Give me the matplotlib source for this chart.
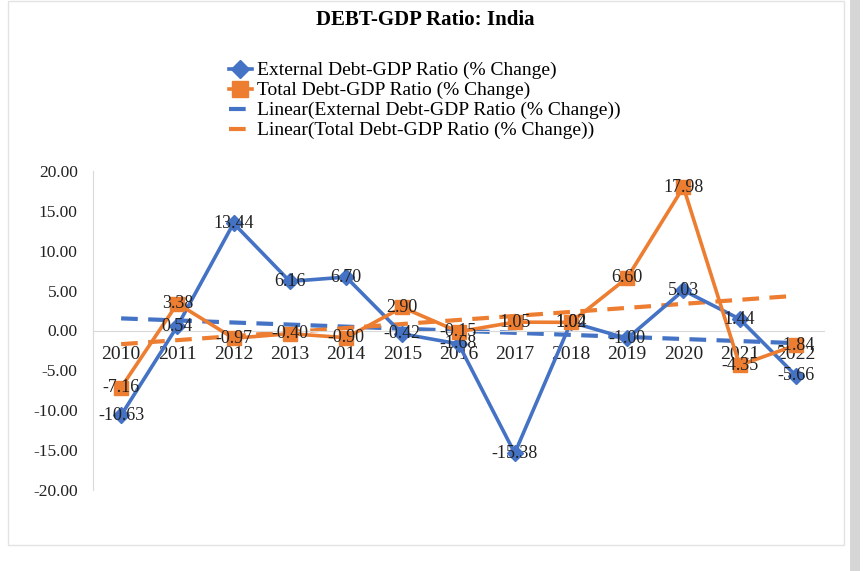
import numpy as np
import matplotlib.pyplot as plt
from matplotlib.patches import Rectangle
from matplotlib.lines import Line2D

years = ["2010", "2011", "2012", "2013", "2014", "2015", "2016",
         "2017", "2018", "2019", "2020", "2021", "2022"]
external = [-10.63, 0.54, 13.44, 6.16, 6.70, -0.42, -1.68,
            -15.38, 1.04, -1.00, 5.03, 1.44, -5.66]
total = [-7.16, 3.38, -0.97, -0.40, -0.90, 2.90, -0.15,
         1.05, 1.02, 6.60, 17.98, -4.35, -1.84]
yticks = [20, 15, 10, 5, 0, -5, -10, -15, -20]

BLUE = "#4472C4"
ORANGE = "#ED7D31"
FONT = "Liberation Serif"

plt.rcParams["font.family"] = FONT

fig = plt.figure(figsize=(8.67, 5.71), dpi=100)
# chart frame and the grey scrollbar at the right
fig.patches.append(Rectangle((8 / 867, 1 - 545 / 571), 836 / 867, 544 / 571,
                             transform=fig.transFigure, fill=False,
                             edgecolor="#E3E3E3", lw=1))
fig.patches.append(Rectangle((850 / 867, 0), 10 / 867, 1,
                             transform=fig.transFigure, color="#D6D6D6", lw=0))

ax = fig.add_axes([93 / 867, 81 / 571, 731 / 867, 319 / 571])
x = np.arange(len(years))

ax.plot(x, external, color=BLUE, lw=2.6, marker="D", ms=8, zorder=3)
ax.plot(x, total, color=ORANGE, lw=2.6, marker="s", ms=10, zorder=3)

# linear trend lines
for vals, c in [(external, BLUE), (total, ORANGE)]:
    k, b = np.polyfit(x, vals, 1)
    ax.plot(x, k * x + b, color=c, lw=3, ls=(0, (4, 2.5)), zorder=2)

for xs, vals in [(x, external), (x, total)]:
    for xi, v in zip(xs, vals):
        ax.text(xi, v, f"{v:.2f}", ha="center", va="center",
                fontsize=13, color="#222222", zorder=4)

ax.set_xlim(-0.5, len(years) - 0.5)
ax.set_ylim(-20, 20)
ax.set_yticks(yticks)
ax.set_yticklabels([f"{t:.2f}" for t in yticks])
ax.set_xticks(x)
ax.set_xticklabels(years)
ax.tick_params(axis="y", length=0, pad=11, labelsize=12.5, labelcolor="#222222")
ax.tick_params(axis="x", length=0, pad=11, labelsize=14, labelcolor="#222222")

for s in ["top", "right"]:
    ax.spines[s].set_visible(False)
ax.spines["bottom"].set_position(("data", 0))
ax.spines["bottom"].set_color("#D9D9D9")
ax.spines["left"].set_color("#D9D9D9")

fig.text(425 / 867, 1 - 20 / 571, "DEBT-GDP Ratio: India", ha="center",
         va="center", fontsize=15, fontweight="bold")

handles = [
    Line2D([], [], color=BLUE, lw=2.6, marker="D", ms=9),
    Line2D([], [], color=ORANGE, lw=2.6, marker="s", ms=11),
    Line2D([], [], color=BLUE, lw=3, ls=(0, (4, 2.5))),
    Line2D([], [], color=ORANGE, lw=3, ls=(0, (4, 2.5))),
]
labels = [
    "External Debt-GDP Ratio (% Change)",
    "Total Debt-GDP Ratio (% Change)",
    "Linear(External Debt-GDP Ratio (% Change))",
    "Linear(Total Debt-GDP Ratio (% Change))",
]
fig.legend(handles, labels, loc="upper left",
           bbox_to_anchor=(219 / 867, 1 - 52 / 571), frameon=False,
           fontsize=14, handlelength=1.2, handletextpad=0.25,
           labelspacing=0.12, borderpad=0)

fig.savefig("out.png", dpi=100)
